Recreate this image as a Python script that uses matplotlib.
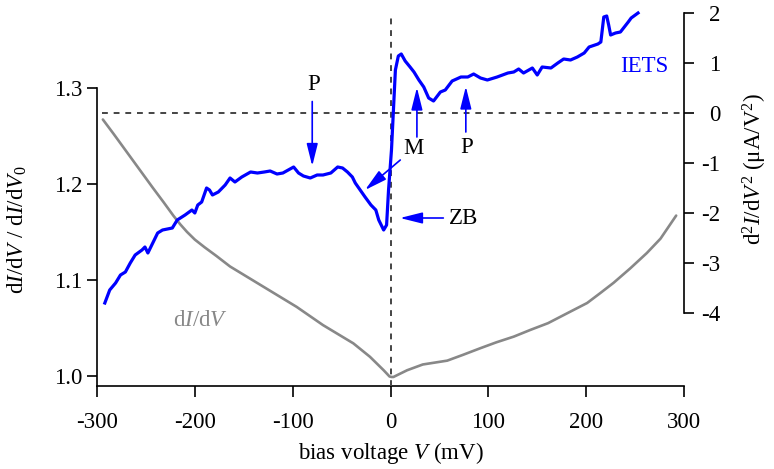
import matplotlib
matplotlib.use("Agg")
import matplotlib.pyplot as plt

plt.rcParams['font.family'] = ['Liberation Serif', 'DejaVu Serif']
plt.rcParams['mathtext.fontset'] = 'custom'
plt.rcParams['mathtext.rm'] = 'Liberation Serif'
plt.rcParams['mathtext.it'] = 'Liberation Serif:italic'
plt.rcParams['axes.unicode_minus'] = False

# dI/dV normalised to the zero-bias value (left axis)
didv_bias = [-294, -283, -273, -263, -253, -243, -232, -222, -215, -208, -200, -190,
             -178, -164, -130, -96, -69, -38, -21, -7, -1, 1, 3, 17, 33, 58, 74, 92,
             108, 126, 143, 161, 180, 201, 214, 228, 245, 262, 276, 292]
didv_norm = [1.267, 1.252, 1.238, 1.224, 1.210, 1.196, 1.181, 1.167, 1.158, 1.150,
             1.142, 1.134, 1.125, 1.114, 1.093, 1.072, 1.053, 1.034, 1.020, 1.006,
             0.9995, 0.999, 0.999, 1.006, 1.012, 1.016, 1.022, 1.029, 1.035, 1.041,
             1.048, 1.055, 1.065, 1.076, 1.086, 1.097, 1.112, 1.128, 1.143, 1.167]

# IETS signal d2I/dV2 in uA/V^2 (right axis)
iets_bias = [-292, -287, -281, -276, -271, -266, -261, -254, -251, -248, -243, -238,
             -233, -223, -218, -210, -203, -200, -197, -193, -188, -185, -182, -176,
             -169, -164, -159, -152, -143, -136, -129, -123, -116, -110, -99, -94,
             -89, -82, -75, -69, -61, -54, -49, -44, -39, -36, -31, -26, -20, -15,
             -12, -7, -4, -2, 1, 3, 5, 8, 11, 15, 20, 24, 29, 34, 39, 44, 51, 56,
             63, 72, 79, 85, 92, 99, 109, 120, 126, 131, 136, 145, 150, 155, 164,
             171, 177, 184, 191, 198, 203, 212, 215, 218, 221, 223, 225, 230, 235,
             239, 243, 246, 253]
iets_val = [-3.80, -3.54, -3.40, -3.24, -3.18, -3.00, -2.84, -2.74, -2.68, -2.80,
            -2.60, -2.40, -2.34, -2.30, -2.14, -2.04, -1.94, -2.00, -1.84, -1.78,
            -1.50, -1.54, -1.64, -1.58, -1.44, -1.30, -1.38, -1.28, -1.18, -1.20,
            -1.18, -1.16, -1.22, -1.20, -1.08, -1.20, -1.26, -1.30, -1.24, -1.24,
            -1.20, -1.08, -1.10, -1.18, -1.28, -1.40, -1.54, -1.68, -1.84, -1.94,
            -2.14, -2.34, -2.24, -1.54, -0.74, 0.06, 0.86, 1.14, 1.18, 1.04, 0.92,
            0.82, 0.66, 0.52, 0.30, 0.24, 0.42, 0.46, 0.64, 0.72, 0.72, 0.78, 0.70,
            0.66, 0.72, 0.80, 0.82, 0.88, 0.80, 0.90, 0.76, 0.92, 0.90, 1.00, 1.08,
            1.06, 1.12, 1.20, 1.32, 1.38, 1.42, 1.92, 1.94, 1.76, 1.56, 1.60, 1.62,
            1.72, 1.82, 1.90, 2.00]

x_ticks = [-300, -200, -100, 0, 100, 200, 300]
left_ticks = [1.0, 1.1, 1.2, 1.3]
right_ticks = [-4, -3, -2, -1, 0, 1, 2]

W, H = 774, 469
fig = plt.figure(figsize=(W / 100, H / 100), dpi=100)
ax = fig.add_axes([97 / W, 1 - 386 / H, 587 / W, 376 / H])
ax2 = ax.twinx()

FS = 16.5
BLUE = '#0000ff'
GRAY = '#888888'
DASH = '#444444'

# left axis: dI/dV
ax.plot(didv_bias, didv_norm, color=GRAY, lw=1.9, solid_capstyle='round',
        solid_joinstyle='round')
ax.set_xlim(-300, 300)
ax.set_ylim(0.9896, 1.381)
ax.set_xticks(x_ticks)
ax.set_xticklabels([str(v) for v in x_ticks])
ax.set_yticks(left_ticks)
ax.set_yticklabels(['1.0', '1.1', '1.2', '1.3'])
ax.spines['top'].set_visible(False)
ax.spines['right'].set_visible(False)
ax.spines['left'].set_bounds(0.9896, 1.3)
for s in ('left', 'bottom'):
    ax.spines[s].set_linewidth(1.2)
ax.tick_params(axis='x', direction='out', length=8, width=1.2, pad=10.5, labelsize=FS)
ax.tick_params(axis='y', direction='out', length=7.5, width=1.2, pad=3, labelsize=FS)
ax.set_xlabel(r'bias voltage $V$ (mV)', fontsize=FS, labelpad=5)

# right axis: IETS
ax2.set_ylim(-5.46, 2.06)
ax2.set_yticks(right_ticks)
ax2.set_yticklabels([str(v) for v in right_ticks])
for s in ('top', 'left', 'bottom'):
    ax2.spines[s].set_visible(False)
ax2.spines['right'].set_bounds(-4, 2)
ax2.spines['right'].set_linewidth(1.2)
ax2.tick_params(axis='y', direction='out', length=7, width=1.2, pad=19, labelsize=FS)
plt.setp(ax2.get_yticklabels(), ha='right')

# zero lines
ax2.axvline(0, ymin=0, ymax=(386 - 18) / 376, color=DASH, lw=1.4, ls=(0, (3, 3)))
ax2.hlines(0, -295, 300, color=DASH, lw=1.4, ls=(0, (3, 3)))

ax2.plot(iets_bias, iets_val, color=BLUE, lw=2.3, solid_joinstyle='round')

# annotations
arrow = dict(arrowstyle='-|>,head_length=0.8,head_width=0.2', color=BLUE,
             lw=1.2, mutation_scale=17, shrinkA=0, shrinkB=0)
ax2.annotate('', xy=(-80, -1.06), xytext=(-80, 0.23), arrowprops=arrow)
ax2.text(-79, 0.58, 'P', fontsize=FS, ha='center', va='center')
ax2.annotate('', xy=(-26, -1.54), xytext=(10, -0.94), arrowprops=arrow)
ax2.text(23, -0.71, 'M', fontsize=FS, ha='center', va='center')
ax2.annotate('', xy=(27, 0.51), xytext=(27, -0.48), arrowprops=arrow)
ax2.annotate('', xy=(77, 0.53), xytext=(77, -0.38), arrowprops=arrow)
ax2.text(78, -0.68, 'P', fontsize=FS, ha='center', va='center')
ax2.annotate('', xy=(9.7, -2.1), xytext=(54, -2.1), arrowprops=arrow)
ax2.text(75, -2.1, 'ZB', fontsize=FS, ha='center', va='center')
ax2.text(259, 0.93, 'IETS', fontsize=FS, color=BLUE, ha='center', va='center')
ax.text(-194, 1.058, r'd$I$/d$V$', fontsize=FS, color=GRAY, ha='center', va='center')

# axis titles
fig.text(17 / W, 1 - 230 / H, r'd$I$/d$V$ / d$I$/d$V_0$', fontsize=FS,
         rotation=90, ha='center', va='center')
fig.text(755 / W, 1 - 169 / H, r'd$^{2}$$I$/d$V^{2}$ (μA/$\mathrm{V}^{2}$)', fontsize=FS,
         rotation=90, ha='center', va='center')

fig.savefig('out.png', dpi=100)
